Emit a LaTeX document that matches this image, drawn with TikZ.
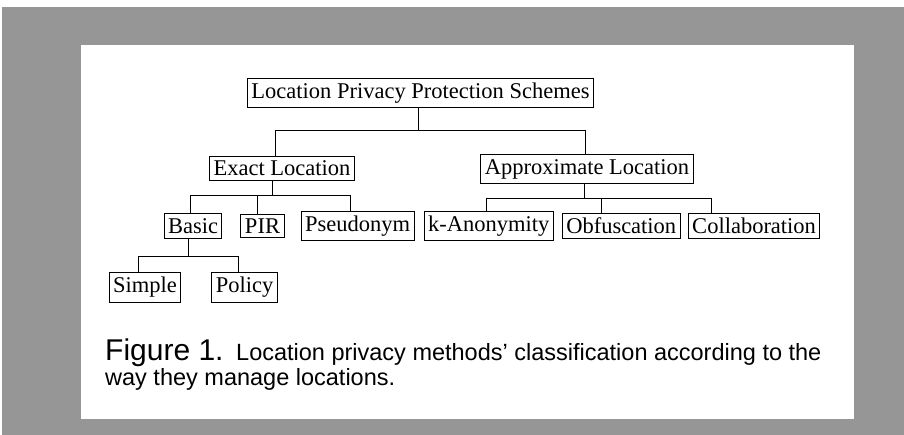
\documentclass[tikz,border=0pt]{standalone}
\usepackage{fontspec}
\setmainfont{Liberation Serif}
\newfontfamily\capfont{Liberation Sans}
\usetikzlibrary{positioning}
\definecolor{pagegray}{RGB}{150,150,150}
\tikzset{
  box/.style={draw, line width=1pt, inner xsep=4pt, inner ysep=4.5pt,
    font=\fontsize{22.5}{26}\selectfont},
  link/.style={line width=1pt},
  captext/.style={anchor=base west, inner sep=0pt, font=\capfont\fontsize{23.5}{27}\selectfont},
}

\begin{document}
\begin{tikzpicture}[x=1pt, y=-1pt]
  \useasboundingbox (0,0) rectangle (904,435);
  \fill[pagegray] (2,7) rectangle (904,435);
  \fill[white] (81,45) rectangle (854,419);
  % the tree
  \node[box] (lpps) at (420.5,93) {Location Privacy Protection Schemes};
  \node[box] (exact) at (282,168.5) {Exact Location};
  \node[box] (approx) at (587,169) {Approximate Location};
  \node[box] (basic) at (193,226) {Basic};
  \node[box, right=18pt of basic] (pir) {PIR};
  \node[box, right=16pt of pir] (pseudo) {Pseudonym};
  \node[box, right=9pt of pseudo] (kanon) {k-Anonymity};
  \node[box, right=8pt of kanon] (obfus) {Obfuscation};
  \node[box, right=7pt of obfus] (collab) {Collaboration};
  \node[box] (simple) at (145,287.5) {Simple};
  \node[box, right=30pt of simple] (policy) {Policy};
  % junctions
  \coordinate (j0) at (418,131);
  \coordinate (j1) at (272,196);
  \coordinate (j2) at (584,199);
  \coordinate (j3) at (188,257);
  \draw[link] (lpps.south -| j0) -- (j0);
  \draw[link] ([xshift=-7pt]exact.north) |- (j0);
  \draw[link] ([xshift=-2pt]approx.north) |- (j0);
  \draw[link] (exact.south -| j1) -- (j1);
  \draw[link] ([xshift=-2.5pt]basic.north) |- (j1);
  \draw[link] ([xshift=-5.5pt]pir.north) |- (j1);
  \draw[link] ([xshift=-7pt]pseudo.north) |- (j1);
  \draw[link] (approx.south -| j2) -- (j2);
  \draw[link] ([xshift=-2pt]kanon.north) |- (j2);
  \draw[link] ([xshift=-19.5pt]obfus.north) |- (j2);
  \draw[link] ([xshift=-42.5pt]collab.north) |- (j2);
  \draw[link] (basic.south -| j3) -- (j3);
  \draw[link] ([xshift=-7pt]simple.north) |- (j3);
  \draw[link] ([xshift=-6.5pt]policy.north) |- (j3);
  % caption
  \node[captext, font=\capfont\fontsize{30}{34}\selectfont] (fig) at (105,360) {Figure 1.};
  \node[captext] (cap1) at (236,360) {Location privacy methods’ classification according to the};
  \node[captext] (cap2) at (105,385) {way they manage locations.};
\end{tikzpicture}
\end{document}
